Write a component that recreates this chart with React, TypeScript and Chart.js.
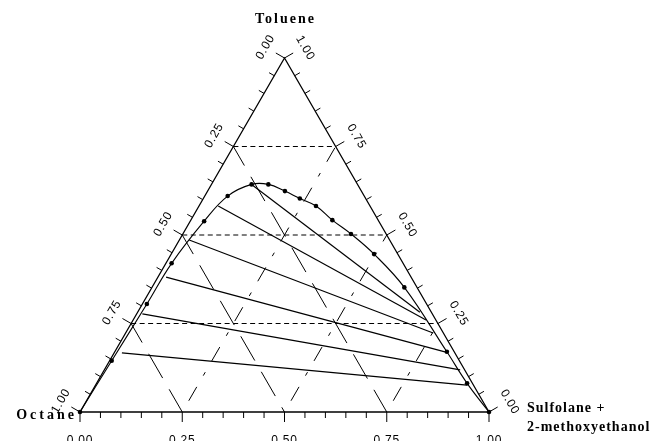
import React, { useEffect, useRef } from "react";
import { Chart, registerables } from "chart.js";

Chart.register(...registerables);

// ---- data (mass fractions: sulfolane+2-methoxyethanol = S, toluene = T) ----
const tickValues = [0, 0.25, 0.5, 0.75, 1];
const tickLabels = ["0.00", "0.25", "0.50", "0.75", "1.00"];
const gridValues = [0.25, 0.5, 0.75];

const binodalSulfolane = [0, 0.005, 0.011, 0.014, 0.034, 0.056, 0.098, 0.139, 0.189, 0.236, 0.286, 0.346, 0.411, 0.496, 0.617, 0.812, 0.906, 1.0];
const binodalToluene = [0, 0.145, 0.305, 0.42, 0.539, 0.61, 0.643, 0.643, 0.624, 0.603, 0.582, 0.542, 0.503, 0.446, 0.352, 0.17, 0.081, 0];

const tieLeftSulfolane = [0.096, 0.047, 0.024, 0.02, 0.014, 0.019];
const tieLeftToluene = [0.644, 0.582, 0.486, 0.381, 0.277, 0.167];
const tieRightSulfolane = [0.69, 0.716, 0.752, 0.81, 0.87, 0.908];
const tieRightToluene = [0.282, 0.26, 0.223, 0.169, 0.119, 0.076];

const topLabel = "Toluene";
const leftLabel = "Octane";
const rightLabel1 = "Sulfolane +";
const rightLabel2 = "2-methoxyethanol";

const H = Math.sqrt(3) / 2;
const pt = (s: number, t: number) => ({ x: s + t / 2, y: t * H });

const lineDs = (data: any[], extra: any = {}) => ({
  data,
  showLine: true,
  borderColor: "#000",
  borderWidth: 1,
  pointRadius: 0,
  fill: false,
  clip: false,
  tension: 0,
  ...extra,
});

const ternaryPlugin = {
  id: "ternaryAxes",
  afterDatasetsDraw(chart: any) {
    const { ctx } = chart;
    const xs = chart.scales.x;
    const ys = chart.scales.y;
    const px = (s: number, t: number) => [xs.getPixelForValue(s + t / 2), ys.getPixelForValue(t * H)];
    const c30 = Math.cos(Math.PI / 6);
    const s30 = 0.5;
    ctx.save();
    ctx.strokeStyle = "#000";
    ctx.fillStyle = "#000";
    ctx.lineWidth = 1;
    const seg = (x1: number, y1: number, x2: number, y2: number) => {
      ctx.beginPath();
      ctx.moveTo(x1, y1);
      ctx.lineTo(x2, y2);
      ctx.stroke();
    };
    for (let i = 0; i <= 20; i++) {
      const v = i / 20;
      const major = i % 5 === 0;
      const len = major ? 10 : 6;
      const [bx, by] = px(v, 0);
      seg(bx, by, bx, by + len);
      const [lx, ly] = px(0, 1 - v);
      seg(lx, ly, lx - c30 * len, ly - s30 * len);
      const [rx, ry] = px(1 - v, v);
      seg(rx, ry, rx + c30 * len, ry - s30 * len);
    }
    ctx.font = "12px 'Liberation Sans', Arial, sans-serif";
    (ctx as any).letterSpacing = "0.8px";
    ctx.textAlign = "center";
    ctx.textBaseline = "middle";
    tickValues.forEach((v, i) => {
      const label = tickLabels[i];
      const [bx, by] = px(v, 0);
      ctx.fillText(label, bx, by + 29);
      const [lx, ly] = px(0, 1 - v);
      ctx.save();
      ctx.translate(lx - c30 * 22, ly - s30 * 22);
      ctx.rotate(-Math.PI / 3);
      ctx.fillText(label, 0, 0);
      ctx.restore();
      const [rx, ry] = px(1 - v, v);
      ctx.save();
      ctx.translate(rx + c30 * 24, ry - s30 * 20);
      ctx.rotate(Math.PI / 3);
      ctx.fillText(label, 0, 0);
      ctx.restore();
    });
    ctx.font = "bold 14px 'Liberation Serif', 'Times New Roman', serif";
    (ctx as any).letterSpacing = "2px";
    const [tx, ty] = px(0, 1);
    ctx.textAlign = "center";
    ctx.fillText(topLabel, tx + 1, ty - 39);
    const [ox, oy] = px(0, 0);
    ctx.textAlign = "right";
    (ctx as any).letterSpacing = "3px";
    ctx.fillText(leftLabel, ox - 3, oy + 3);
    (ctx as any).letterSpacing = "1px";
    const [sx, sy] = px(1, 0);
    ctx.textAlign = "left";
    ctx.fillText(rightLabel1, sx + 38, sy - 4);
    ctx.fillText(rightLabel2, sx + 38, sy + 15);
    ctx.restore();
  },
};

export default function App() {
  const ref = useRef<HTMLCanvasElement>(null);
  useEffect(() => {
    if (!ref.current) return;
    const datasets: any[] = [];
    // triangle frame
    datasets.push(lineDs([pt(0, 0), pt(1, 0), pt(0, 1), pt(0, 0)], { borderWidth: 1.3 }));
    // tie lines
    tieLeftSulfolane.forEach((s, i) => {
      datasets.push(lineDs([pt(s, tieLeftToluene[i]), pt(tieRightSulfolane[i], tieRightToluene[i])], { borderWidth: 1.2 }));
    });
    // binodal curve
    const binodal = binodalSulfolane.map((s, i) => pt(s, binodalToluene[i]));
    datasets.push(lineDs(binodal, { tension: 0.4, borderWidth: 1.1 }));
    datasets.push({
      data: binodal,
      showLine: false,
      pointRadius: 2.3,
      pointBackgroundColor: "#000",
      pointBorderColor: "#000",
      pointBorderWidth: 0,
      clip: false,
    });
    // grid: toluene constant (horizontal, short dash)
    gridValues.forEach((v) => {
      datasets.push(lineDs([pt(0, v), pt(1 - v, v)], { borderDash: [5, 3.5] }));
    });
    // grid: octane constant (parallel to right edge, long dash)
    gridValues.forEach((v) => {
      datasets.push(lineDs([pt(0, 1 - v), pt(1 - v, 0)], { borderDash: [28, 13], borderDashOffset: 6 }));
    });
    // grid: sulfolane constant (parallel to left edge, dash-dot)
    gridValues.forEach((v) => {
      datasets.push(lineDs([pt(v, 0), pt(v, 1 - v)], { borderDash: [16, 13, 4, 13], borderDashOffset: 33 }));
    });

    const chart = new Chart(ref.current, {
      type: "scatter",
      data: { datasets },
      options: {
        animation: false,
        responsive: false,
        devicePixelRatio: 1,
        layout: { padding: { left: 80, right: 165, top: 58, bottom: 29 } },
        plugins: { legend: { display: false }, tooltip: { enabled: false } },
        scales: {
          x: { type: "linear", min: 0, max: 1, display: false },
          y: { type: "linear", min: 0, max: H, display: false },
        },
      },
      plugins: [ternaryPlugin],
    } as any);
    return () => chart.destroy();
  }, []);
  return (
    <div style={{ position: "absolute", left: 0, top: 0, width: 654, height: 441, background: "#fff" }}>
      <canvas ref={ref} width={654} height={441} style={{ display: "block", width: 654, height: 441 }} />
    </div>
  );
}
